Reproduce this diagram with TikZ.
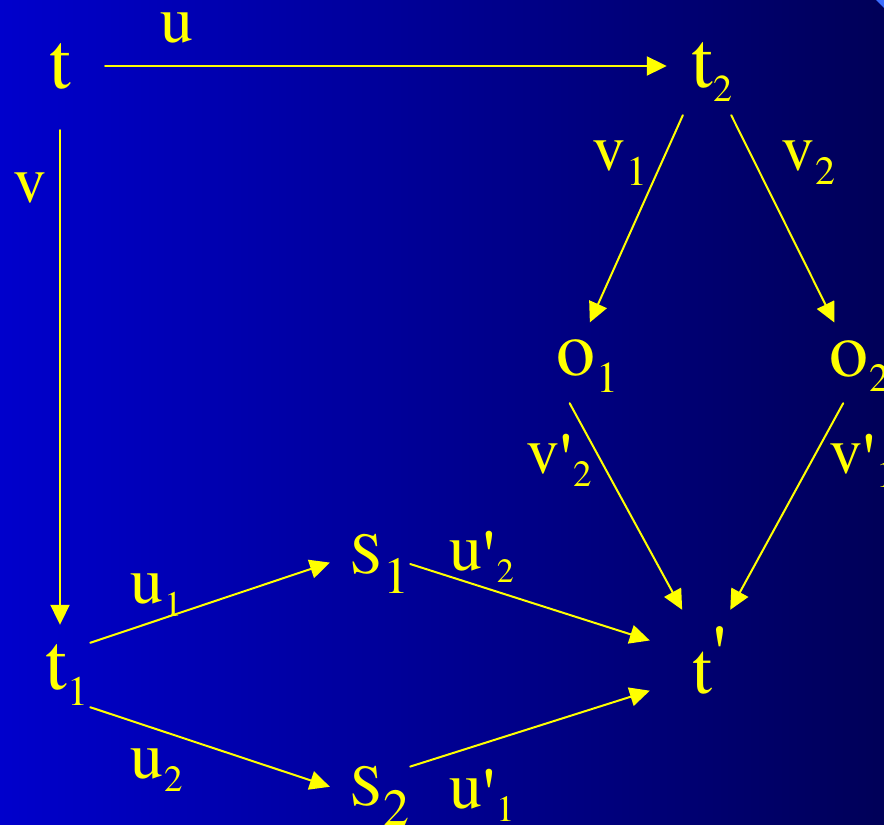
\documentclass[tikz,border=0pt]{standalone}
\usepackage{fontspec}
\setmainfont{TeX Gyre Termes}
\usetikzlibrary{arrows.meta}
\definecolor{slideblue}{RGB}{0,0,204}
\definecolor{slidenavy}{RGB}{0,0,88}
\definecolor{markyellow}{RGB}{255,255,0}
\definecolor{cornerblue}{RGB}{60,110,255}
% index digit set low and small, prime raised or lowered
\newcommand{\idx}[2][38]{\kern1pt\raisebox{-0.37\dimexpr#1pt\relax}{\fontsize{#1}{#1}\selectfont #2}}
\newcommand{\prm}[1][-12pt]{\raisebox{#1}{\scalebox{1.15}{\textquotesingle}}}

\begin{document}
\begin{tikzpicture}[x=1pt,y=-1pt,line cap=round,
  nd/.style={inner sep=0pt,text=markyellow,font=\fontsize{78}{80}\selectfont},
  lbl/.style={inner sep=0pt,anchor=base west,text=markyellow,font=\fontsize{66}{70}\selectfont},
  arr/.style={markyellow,line width=2pt,-{Triangle[length=20pt,width=19pt]}}]
  \useasboundingbox (0,0) rectangle (884,825);
  \shade[left color=slideblue,right color=slidenavy] (0,0) rectangle (884,825);
  \fill[cornerblue] (876,0) -- (884,0) -- (884,8) -- cycle;

  % objects
  \node[nd,minimum width=90pt,minimum height=128pt] (t) at (60,66) {t};
  \node[nd,minimum width=90pt,minimum height=86pt] (t2) at (712,72) {t\idx[38]{2}};
  \node[nd,minimum width=46pt,minimum height=64pt] (t1) at (67,675) {t\idx[42]{1}};
  \node[nd,minimum width=60pt,minimum height=74pt] (o1) at (587,366) {o\idx[44]{1}};
  \node[nd,minimum width=60pt,minimum height=74pt] (o2) at (859,366) {o\idx[40]{2}};
  \node[nd,font=\fontsize{58}{60}\selectfont,minimum width=60pt,minimum height=58pt] (s1) at (380,564) {S\idx[52]{1}};
  \node[nd,font=\fontsize{58}{60}\selectfont,minimum width=60pt,minimum height=58pt] (s2) at (380,796) {S\idx[52]{2}};
  \node[nd,font=\fontsize{72}{74}\selectfont,minimum width=120pt,minimum height=100pt] (tp) at (710,660) {t\prm[11pt]};

  % arrow labels
  \node[lbl] (lu) at (160,42) {u};
  \node[lbl] (lv) at (13,202) {v};
  \node[lbl] (lv1) at (592,170) {v\idx[42]{1}};
  \node[lbl] (lv2) at (781,170) {v\idx[40]{2}};
  \node[lbl] (lvp2) at (526,473) {v\prm\idx[37]{2}};
  \node[lbl] (lvp1) at (829,473) {v\prm\idx[38]{1}};
  \node[lbl] (lu1) at (130,603) {u\idx[36]{1}};
  \node[lbl] (lu2) at (130,778) {u\idx[37]{2}};
  \node[lbl] (lup2) at (449,570) {u\prm\idx[34]{2}};
  \node[lbl] (lup1) at (449,808) {u\prm\idx[37]{1}};

  % morphisms
  \draw[arr] (t.east) -- (t.east -| t2.west);
  \draw[arr,shorten >=18pt] (t.south) -- (t.south |- t1.north);
  \draw[arr,shorten >=7pt] (t2.236) -- (o1.north);
  \draw[arr,shorten >=7pt] (t2.-66) -- (o2.120);
  \draw[arr] (o1.245) -- (tp.119);
  \draw[arr] (o2.247) -- (tp.68);
  \draw[arr,shorten >=21pt] (t1.north east) -- (s1.165);
  \draw[arr,shorten >=21pt] (t1.south east) -- (s2.175);
  \draw[arr] (s1.east) -- (tp.162);
  \draw[arr] (s2.north east) -- (tp.207);
\end{tikzpicture}
\end{document}
